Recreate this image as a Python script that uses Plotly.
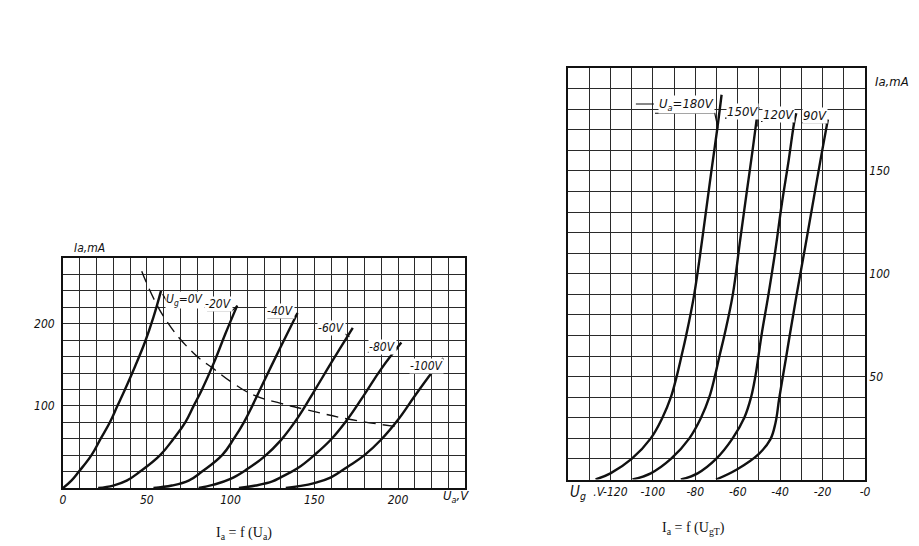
import plotly.graph_objects as go

W, H = 919, 546
OFF = 8  # page body margin that the browser adds around the figure

# ---- left chart: Ia = f(Ua), one curve per grid voltage ----
ua_0 = [0, 5, 9.5, 17, 22.5, 28, 32.5, 37, 43, 49, 54, 58.5]
ia_0 = [0, 9, 20, 40, 60, 80, 100, 120, 148, 178, 208, 240]

ua_20 = [21, 30, 38, 46, 58, 66, 73, 78, 83, 90, 97, 104]
ia_20 = [0, 3, 9, 20, 40, 60, 80, 100, 120, 152, 188, 222]

ua_40 = [54, 65, 75, 83, 95, 102, 108, 113, 120, 130, 140]
ia_40 = [0, 3, 9, 20, 40, 60, 80, 100, 130, 172, 213]

ua_60 = [81, 90, 100, 110, 120, 130, 140, 150, 160, 173]
ia_60 = [0, 4, 11, 23, 38, 58, 85, 118, 152, 195]

ua_80 = [105, 115, 125, 130, 140, 150, 160, 170, 180, 190, 202]
ia_80 = [0, 3, 8, 13, 24, 40, 59, 84, 114, 145, 177]

ua_100 = [133, 140, 150, 160, 170, 180, 190, 200, 210, 220, 227]
ia_100 = [0, 2, 6, 13, 26, 40, 59, 83, 112, 140, 158]

# dashed limit line
ua_lim = [47, 60, 78, 90, 102, 114, 130, 146, 170, 198]
ia_lim = [264, 209, 164, 145, 127, 113, 103, 95, 84, 75]

left_labels = ["U<sub>g</sub>=0V", "-20V", "-40V", "-60V", "-80V", "-100V"]
left_label_x = [73, 93, 130, 160.4, 191, 217]
left_label_y = [229, 224, 215, 195, 172, 148]
# leader: underline start, underline end, point on curve
left_lead_x = [[59.5, 64, 80], [86, 101, 104], [122, 137, 139.5],
               [154.4, 168.4, 171], [182, 197, 200], [208, 222, 224.5]]
left_lead_y = [[236, 220, 220], [216, 216, 222], [207, 207, 211],
               [187.4, 187.4, 184], [165, 165, 170], [140.6, 140.6, 148]]

left_xticks = [0, 50, 100, 150, 200]
left_yticks = [100, 200]

# ---- right chart: Ia = f(Ug), one curve per anode voltage ----
ug_180 = [-127, -120, -110, -101, -95.5, -91.5, -88.8, -86.5, -84.3, -80.5, -76.3, -72.4, -69.7, -67.6]
ia_180 = [0, 3, 10, 20, 30, 40, 50, 60, 70, 90, 120, 150, 170, 187]

ug_150 = [-109.6, -101, -91.5, -82.8, -77.3, -73.4, -70.8, -68.6, -66.3, -62.3, -58.9, -55.7, -53, -50.3]
ia_150 = [0, 3, 10, 20, 30, 40, 50, 60, 70, 90, 116, 140, 160, 181]

ug_120 = [-86.8, -78.9, -70.2, -62.4, -56.9, -53.7, -51.7, -50.2, -48.8, -45.5, -42.3, -39.2, -36, -33.3, -32.4]
ia_120 = [0, 3, 10, 20, 30, 40, 50, 60, 70, 90, 111, 134, 155, 174, 178]

ug_90 = [-70.2, -60.4, -50, -44.6, -42.2, -40.5, -38.8, -37.2, -35.5, -32.2, -28.2, -24.1, -20.5, -17.5]
ia_90 = [0, 4.9, 12.5, 19.5, 27.5, 39, 49.6, 59.3, 70, 90, 113, 137, 158, 175]

right_labels = ["U<sub>a</sub>=180V", "150V", "120V", "90V"]
right_label_x = [-84.2, -57.8, -41, -23.6]
right_label_y = [182.5, 179, 177.5, 177]
right_lead_x = [[-99, -70.8, -69.3], [-66, -51, -50.8], [-49, -34, -33.5], [-29.7, -18.4, -17.9]]
right_lead_y = [[178, 178, 170.7], [175.6, 175.6, 171.6], [174, 174, 172], [173.4, 173.4, 171.7]]

right_xticks = [-120, -100, -80, -60, -40, -20, 0]
right_xtext = [".V-120", "-100", "-80", "-60", "-40", "-20", "-0"]
right_yticks = [50, 100, 150]

NUM_FONT = "Liberation Sans Narrow, DejaVu Sans Condensed, Liberation Sans"
INK = "#111111"


def px(x):
    return (x - OFF) / W


def py(y):
    return 1 - (y - OFF) / H


fig = go.Figure()

left_curves = [(ua_0, ia_0), (ua_20, ia_20), (ua_40, ia_40),
               (ua_60, ia_60), (ua_80, ia_80), (ua_100, ia_100)]
for xs, ys in left_curves:
    fig.add_trace(go.Scatter(x=xs, y=ys, mode="lines", xaxis="x", yaxis="y",
                             line=dict(color=INK, width=2.4, shape="spline", smoothing=1.2),
                             hoverinfo="skip"))
fig.add_trace(go.Scatter(x=ua_lim, y=ia_lim, mode="lines", xaxis="x", yaxis="y",
                         line=dict(color=INK, width=1.4, dash="12px,7px",
                                   shape="spline", smoothing=1.2),
                         hoverinfo="skip"))
for lx, ly in zip(left_lead_x, left_lead_y):
    fig.add_trace(go.Scatter(x=lx, y=ly, mode="lines", xaxis="x", yaxis="y",
                             line=dict(color=INK, width=1.2), hoverinfo="skip"))

right_curves = [(ug_180, ia_180), (ug_150, ia_150), (ug_120, ia_120), (ug_90, ia_90)]
for xs, ys in right_curves:
    fig.add_trace(go.Scatter(x=xs, y=ys, mode="lines", xaxis="x2", yaxis="y2",
                             line=dict(color=INK, width=2.4, shape="spline", smoothing=1.1),
                             hoverinfo="skip"))
for lx, ly in zip(right_lead_x, right_lead_y):
    fig.add_trace(go.Scatter(x=lx, y=ly, mode="lines", xaxis="x2", yaxis="y2",
                             line=dict(color=INK, width=1.2), hoverinfo="skip"))
# small stroke left of the Ua=180V label
fig.add_trace(go.Scatter(x=[-108, -99.5], y=[182.5, 182.5], mode="lines", xaxis="x2", yaxis="y2",
                         line=dict(color=INK, width=1.2), hoverinfo="skip"))

annotations = []
for t, x, y in zip(left_labels, left_label_x, left_label_y):
    annotations.append(dict(text="<i>" + t + "</i>", x=x, y=y, xref="x", yref="y",
                            xanchor="center", yanchor="middle",
                            showarrow=False, bgcolor="white", borderpad=0,
                            font=dict(family=NUM_FONT, size=12, color=INK)))
for t, x, y in zip(right_labels, right_label_x, right_label_y):
    annotations.append(dict(text="<i>" + t + "</i>", x=x, y=y, xref="x2", yref="y2",
                            xanchor="center", yanchor="middle",
                            showarrow=False, bgcolor="white", borderpad=0,
                            font=dict(family=NUM_FONT, size=13, color=INK)))


def note(text, x, y, size=13, family=NUM_FONT):
    return dict(text=text, x=px(x), y=py(y), xref="paper", yref="paper",
                xanchor="center", yanchor="middle", showarrow=False,
                font=dict(family=family, size=size, color=INK))


# axis names and captions
annotations += [
    note("<i>Ia,mA</i>", 89, 248, 12),
    note("<i>U<sub>a</sub>,V</i>", 456, 496, 13),
    note("<i>Ia,mA</i>", 892, 82, 13),
    note("<i>U<sub>g</sub></i>", 578, 492, 15),
    note("I<sub>a</sub> = f (U<sub>a</sub>)", 244, 533, 14, "Liberation Serif"),
    note("I<sub>a</sub> = f (U<sub>gT</sub>)", 693, 528, 14, "Liberation Serif"),
]

tick_font = dict(family=NUM_FONT, size=12, color=INK, style="italic")
GRID = "#2a2a2a"


def axis(domain, rng, tickvals, ticktext, step, anchor, **extra):
    return dict(domain=domain, range=rng, anchor=anchor, automargin=False,
                tickmode="array", tickvals=tickvals, ticktext=ticktext,
                showgrid=True, gridcolor=GRID, gridwidth=1.1, zeroline=False,
                minor=dict(tickmode="linear", tick0=0, dtick=step, showgrid=True,
                           gridcolor=GRID, gridwidth=1.1, ticks=""),
                showline=True, mirror=True, linecolor=INK, linewidth=1.8,
                ticks="", tickfont=tick_font, fixedrange=True, **extra)


fig.update_layout(
    width=W, height=H,
    margin=dict(l=0, r=0, t=0, b=0, autoexpand=False),
    paper_bgcolor="white", plot_bgcolor="white",
    showlegend=False,
    annotations=annotations,
    xaxis=axis([px(63), px(465)], [0, 240], left_xticks,
               [str(v) for v in left_xticks], 10, "y"),
    yaxis=axis([py(488), py(258)], [0, 280], left_yticks,
               [str(v) for v in left_yticks], 20, "x", ticklabelstandoff=4),
    xaxis2=axis([px(568), px(865)], [-140, 0], right_xticks, right_xtext, 10, "y2"),
    yaxis2=axis([py(479.5), py(68)], [0, 200], right_yticks,
                [str(v) for v in right_yticks], 10, "x2", side="right"),
)

fig.write_html("out.html")
